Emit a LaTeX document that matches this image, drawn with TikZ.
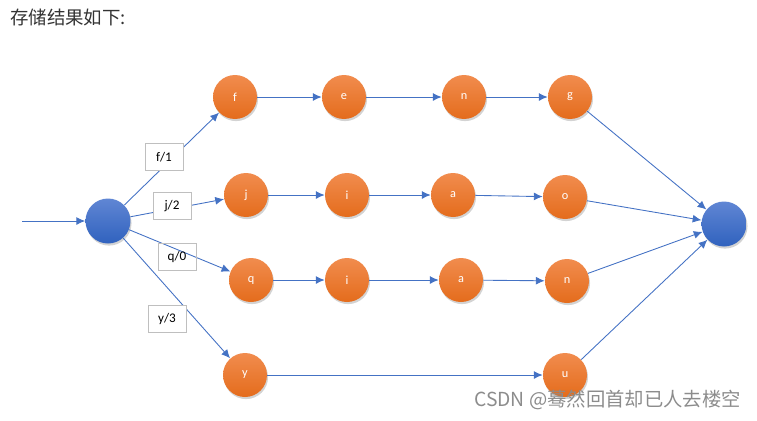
\documentclass[tikz,border=0pt]{standalone}
\usepackage{fontspec}
\setmainfont{Carlito}
\newfontfamily\cjk{Noto Sans CJK SC}
\usetikzlibrary{arrows.meta,shadows}
\definecolor{orangeTop}{RGB}{241,140,78}
\definecolor{orangeBot}{RGB}{228,108,28}
\definecolor{blueTop}{RGB}{96,134,212}
\definecolor{blueBot}{RGB}{48,98,190}
\definecolor{edgeBlue}{RGB}{68,114,196}
\tikzset{
  letter/.style={circle,minimum size=0.88cm,inner sep=0pt,top color=orangeTop,bottom color=orangeBot,
    text=white,font=\fontsize{7}{7}\selectfont,drop shadow={shadow xshift=0.6pt,shadow yshift=-1.2pt,opacity=0.35}},
  state/.style={circle,minimum size=0.9cm,inner sep=0pt,top color=blueTop,bottom color=blueBot,
    drop shadow={shadow xshift=0.6pt,shadow yshift=-1.2pt,opacity=0.35}},
  edge/.style={draw=edgeBlue,line width=0.5pt,-{Latex[length=5pt,width=4.5pt]}},
  tag/.style={draw=black!25,fill=white,minimum width=0.76cm,minimum height=0.55cm,inner sep=1pt,
    font=\fontsize{7.5}{8}\selectfont}
}
\begin{document}
\begin{tikzpicture}[x=0.02cm,y=-0.02cm]
			%%%%% START %%%%%
			\useasboundingbox (0,0) rectangle (757,420);
			\node[anchor=west,text=black!80,font=\cjk\fontsize{10.5}{11}\selectfont] (title) at (4,17) {存储结果如下:};
			
			\coordinate (entry) at (22,221);
			\node[state] (start) at (108,221) {};
			\node[state] (stop) at (724,224) {};
			
			\node[letter] (f) at (235,97) {f};
			\node[letter] (e) at (344,97) {e};
			\node[letter] (n1) at (464,97) {n};
			\node[letter] (g) at (570,97) {g};
			
			\node[letter] (j) at (246,195) {j};
			\node[letter] (i1) at (347,195) {i};
			\node[letter] (a1) at (453,195) {a};
			\node[letter] (o) at (565,197) {o};
			
			\node[letter] (q) at (251,280) {q};
			\node[letter] (i2) at (347,280) {i};
			\node[letter] (a2) at (461,280) {a};
			\node[letter] (n2) at (567,281) {n};
			
			\node[letter] (y) at (245,375) {y};
			\node[letter] (u) at (565,375) {u};
			
			\draw[edge] (entry) -- (start);
			\draw[edge] (start) -- (f);
			\draw[edge] (start) -- (j);
			\draw[edge] (start) -- (q);
			\draw[edge] (start) -- (y);
			
			\draw[edge] (f) -- (e);
			\draw[edge] (e) -- (n1);
			\draw[edge] (n1) -- (g);
			\draw[edge] (j) -- (i1);
			\draw[edge] (i1) -- (a1);
			\draw[edge] (a1) -- (o);
			\draw[edge] (q) -- (i2);
			\draw[edge] (i2) -- (a2);
			\draw[edge] (a2) -- (n2);
			\draw[edge] (y) -- (u);
			
			\draw[edge] (g) -- (stop);
			\draw[edge] (o) -- (stop);
			\draw[edge] (n2) -- (stop);
			\draw[edge] (u) -- (stop);
			
			\node[tag] (tf) at (164,157) {f/1};
			\node[tag] (tj) at (172,206) {j/2};
			\node[tag,fill=none] (tq) at (177,257) {q/0};
			\node[tag] (ty) at (167,319) {y/3};
			
			\node[anchor=west,text=black!45,font=\cjk\fontsize{11}{12}\selectfont] (mark) at (468,400) {CSDN @蓦然回首却已人去楼空};
			%%%%% END %%%%%
\end{tikzpicture}
\end{document}
